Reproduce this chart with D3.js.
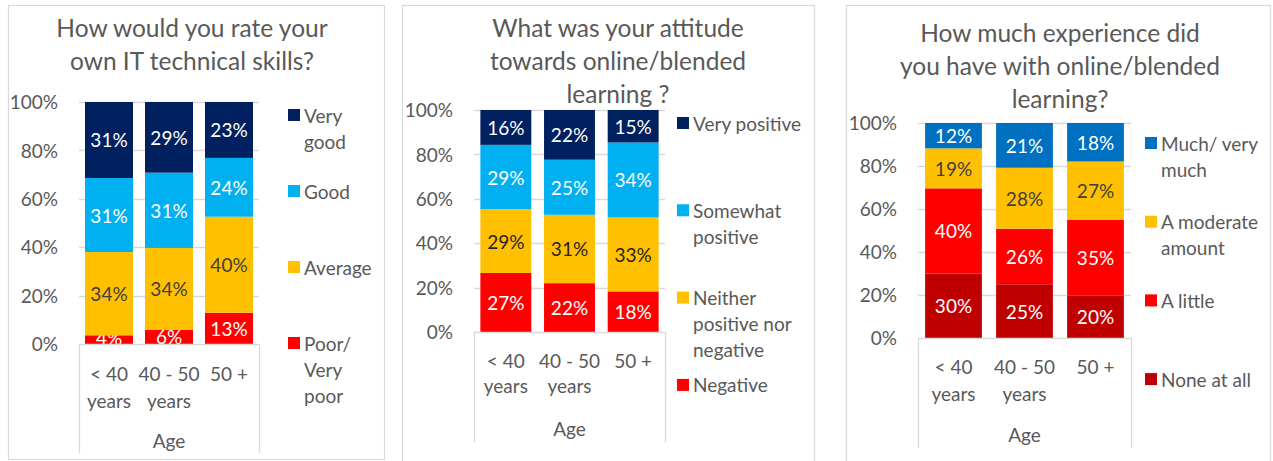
<!DOCTYPE html>
<html><head><meta charset="utf-8">
<script src="https://cdn.jsdelivr.net/npm/d3@7"></script>
<style>
body{margin:0;background:#fff}
svg{display:block}
text{font-family:Lato,"Open Sans",sans-serif}
</style>
</head><body>
<svg id="c" width="1273" height="461"></svg>
<script>
// ---------- DATA ----------
const ageGroups = ["< 40 years", "40 - 50 years", "50 +"];
const axisTitle = "Age";
const yTicks = [0, 20, 40, 60, 80, 100];

// Chart 1
const skillsTitle = ["How would you rate your", "own IT technical skills?"];
const skillsSeries = ["Poor/ Very poor", "Average", "Good", "Very good"];
const skillsPoor = [3.6, 5.8, 12.9];
const skillsAverage = [34.4, 33.9, 39.7];
const skillsGood = [30.6, 31.1, 24.3];
const skillsVeryGood = [31.4, 29.2, 23.1];
const skillsColors = ["#FF0000", "#FFC000", "#00B0F0", "#002060"];

// Chart 2
const attitudeTitle = ["What was your attitude", "towards online/blended", "learning ?"];
const attitudeSeries = ["Negative", "Neither positive nor negative", "Somewhat positive", "Very positive"];
const attitudeNegative = [26.6, 22.0, 18.3];
const attitudeNeither = [28.7, 30.8, 33.3];
const attitudeSomewhat = [29.0, 24.8, 33.8];
const attitudeVery = [15.7, 22.4, 14.6];
const attitudeColors = ["#FF0000", "#FFC000", "#00B0F0", "#002060"];

// Chart 3
const experienceTitle = ["How much experience did", "you have with online/blended", "learning?"];
const experienceSeries = ["None at all", "A little", "A moderate amount", "Much/ very much"];
const experienceNone = [30.0, 25.0, 19.8];
const experienceLittle = [39.6, 25.8, 35.2];
const experienceModerate = [18.6, 28.4, 27.1];
const experienceMuch = [11.8, 20.8, 17.9];
const experienceColors = ["#C00000", "#FF0000", "#FFC000", "#0070C0"];

// ---------- LAYOUT ----------
const FS = 19;       // small text size
const TFS = 24.5;    // title size
const charts = [
  {title: skillsTitle, series: skillsSeries, values: [skillsPoor, skillsAverage, skillsGood, skillsVeryGood],
   colors: skillsColors, labelColors: ["#fff", "#404040", "#fff", "#fff"],
   box: [8.5, 5.5, 384.5, 459.5], titleX: 192, titleY: 27, plot: [79, 259, 102, 344], tickX: 58,
   catY: 373, catStep: 27, ageY: 440, axisBottom: 453, legX: 288, legTop: 115, legStep: 76, legWrap: 76},
  {title: attitudeTitle, series: attitudeSeries, values: [attitudeNegative, attitudeNeither, attitudeSomewhat, attitudeVery],
   colors: attitudeColors, labelColors: ["#fff", "#262626", "#fff", "#fff"],
   box: [402.5, 5.5, 814.5, 480], titleX: 618, titleY: 27, plot: [474, 665, 110, 332], tickX: 453,
   catY: 360, catStep: 25, ageY: 428, axisBottom: 442, legX: 677, legTop: 123, legStep: 87.3, legWrap: 120},
  {title: experienceTitle, series: experienceSeries, values: [experienceNone, experienceLittle, experienceModerate, experienceMuch],
   colors: experienceColors, labelColors: ["#fff", "#fff", "#404040", "#fff"],
   box: [846.5, 5.5, 1270.5, 480], titleX: 1060, titleY: 32, plot: [918, 1131, 123, 338], tickX: 897,
   catY: 366, catStep: 27, ageY: 434, axisBottom: 448, legX: 1145, legTop: 143, legStep: 78.7, legWrap: 108}
];

const svg = d3.select("#c");
const grey = "#D9D9D9";
const textGrey = "#595959";

function wrapWords(str, maxW, size) {
  const tmp = svg.append("text").style("font-size", size + "px");
  const words = str.split(" ");
  const lines = [];
  let cur = "";
  words.forEach(w => {
    const test = cur ? cur + " " + w : w;
    tmp.text(test);
    if (cur && tmp.node().getComputedTextLength() > maxW) { lines.push(cur); cur = w; }
    else cur = test;
  });
  if (cur) lines.push(cur);
  tmp.remove();
  return lines;
}

charts.forEach(c => {
  const g = svg.append("g");
  const [bx0, by0, bx1, by1] = c.box;
  g.append("rect").attr("x", bx0).attr("y", by0).attr("width", bx1 - bx0).attr("height", by1 - by0)
    .attr("fill", "#fff").attr("stroke", grey).attr("stroke-width", 1.2);

  // title
  g.append("g").selectAll("text").data(c.title).join("text")
    .attr("x", c.titleX).attr("y", (d, i) => c.titleY + i * 33)
    .attr("text-anchor", "middle").attr("dominant-baseline", "central")
    .style("font-size", TFS + "px").attr("fill", textGrey).text(d => d);

  const [px0, px1, py0, py1] = c.plot;
  const x = d3.scaleBand().domain(ageGroups).range([px0, px1]).paddingInner(0.2).paddingOuter(0.1);
  const y = d3.scaleLinear().domain([0, 100]).range([py1, py0]);

  // gridlines
  g.append("g").selectAll("line").data(yTicks.filter(t => t > 0)).join("line")
    .attr("x1", px0).attr("x2", px1).attr("y1", d => Math.round(y(d)) + 0.5).attr("y2", d => Math.round(y(d)) + 0.5)
    .attr("stroke", grey).attr("stroke-width", 1.3);

  // y axis labels
  const yAxis = d3.axisLeft(y).tickValues(yTicks).tickFormat(d => d + "%").tickSize(0).tickPadding(0);
  const ya = g.append("g").attr("transform", `translate(${c.tickX},0)`).call(yAxis);
  ya.select(".domain").remove();
  ya.selectAll("text").style("font-size", FS + "px").attr("fill", textGrey).attr("dy", "0.35em").style("font-family", "Lato");

  // stacked bars
  const rows = ageGroups.map((a, i) => {
    const o = {age: a};
    c.series.forEach((s, j) => o[s] = c.values[j][i]);
    return o;
  });
  const stacked = d3.stack().keys(c.series)(rows);
  stacked.forEach((layer, j) => {
    const lg = g.append("g");
    lg.selectAll("rect").data(layer).join("rect")
      .attr("x", d => x(d.data.age)).attr("width", x.bandwidth())
      .attr("y", d => y(d[1])).attr("height", d => y(d[0]) - y(d[1]))
      .attr("fill", c.colors[j]);
    lg.selectAll("text").data(layer).join("text")
      .attr("x", d => x(d.data.age) + x.bandwidth() / 2)
      .attr("y", d => Math.min((y(d[0]) + y(d[1])) / 2, y(d[0]) - 7))
      .attr("text-anchor", "middle").attr("dominant-baseline", "central")
      .style("font-size", FS + "px").attr("fill", c.labelColors[j])
      .text(d => Math.round(d[1] - d[0]) + "%");
  });

  // category axis box
  const ab = g.append("g").attr("stroke", grey).attr("stroke-width", 1.3).attr("fill", "none");
  ab.append("line").attr("x1", px0).attr("x2", px1).attr("y1", py1 + 0.5).attr("y2", py1 + 0.5);
  ab.append("line").attr("x1", px0 + 0.5).attr("x2", px0 + 0.5).attr("y1", py1).attr("y2", c.axisBottom);
  ab.append("line").attr("x1", px1 + 0.5).attr("x2", px1 + 0.5).attr("y1", py1).attr("y2", c.axisBottom);

  // category labels
  ageGroups.forEach(a => {
    const lines = wrapWords(a, x.step() + 6, FS);
    g.append("g").selectAll("text").data(lines).join("text")
      .attr("x", x(a) + x.bandwidth() / 2).attr("y", (d, i) => c.catY + i * c.catStep)
      .attr("text-anchor", "middle").attr("dominant-baseline", "central")
      .style("font-size", FS + "px").attr("fill", textGrey).text(d => d);
  });
  g.append("text").attr("x", (px0 + px1) / 2).attr("y", c.ageY)
    .attr("text-anchor", "middle").attr("dominant-baseline", "central")
    .style("font-size", FS + "px").attr("fill", textGrey).text(axisTitle);

  // legend (top series first)
  const order = c.series.map((s, j) => j).reverse();
  order.forEach((j, k) => {
    const ly = c.legTop + k * c.legStep;
    g.append("rect").attr("x", c.legX).attr("y", ly - 6).attr("width", 12).attr("height", 12).attr("fill", c.colors[j]);
    const lines = wrapWords(c.series[j], c.legWrap, FS);
    g.append("g").selectAll("text").data(lines).join("text")
      .attr("x", c.legX + 16).attr("y", (d, i) => ly + i * 26)
      .attr("dominant-baseline", "central")
      .style("font-size", FS + "px").attr("fill", textGrey).text(d => d);
  });
});
</script>
</body></html>
